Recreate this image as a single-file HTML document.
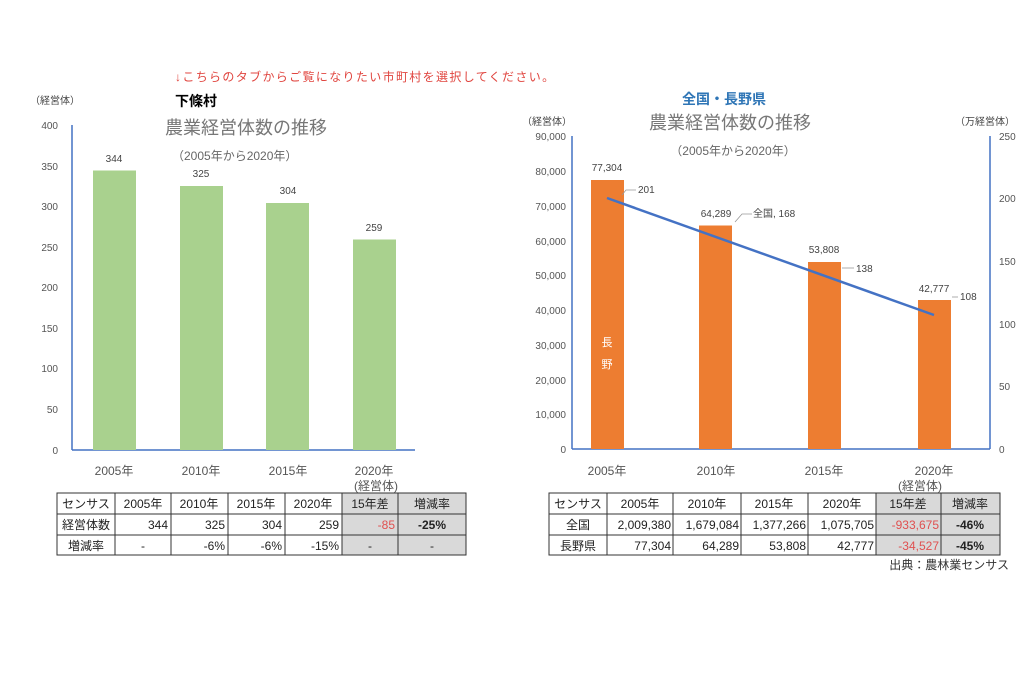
<!DOCTYPE html><html><head><meta charset="utf-8"><style>
body{margin:0;background:#fff}
svg text{font-family:"Liberation Sans","Noto Sans CJK JP",sans-serif}
</style></head><body>
<svg width="1034" height="690" viewBox="0 0 1034 690" xmlns="http://www.w3.org/2000/svg">
<rect width="1034" height="690" fill="#fff"/>
<text x="175" y="81" font-size="12" fill="#e0453f" letter-spacing="1.35">↓こちらのタブからご覧になりたい市町村を選択してください。</text>
<!-- LEFT CHART -->
<text x="30" y="104" font-size="10" fill="#444">（経営体）</text>
<text x="175" y="106" font-size="14" font-weight="bold" fill="#000">下條村</text>
<text x="165" y="134" font-size="18" fill="#777">農業経営体数の推移</text>
<text x="172" y="160" font-size="12" fill="#666">（2005年から2020年）</text>
<g font-size="10" fill="#555" text-anchor="end">
<text x="58" y="129">400</text><text x="58" y="170">350</text><text x="58" y="210">300</text><text x="58" y="251">250</text><text x="58" y="291">200</text><text x="58" y="332">150</text><text x="58" y="372">100</text><text x="58" y="413">50</text><text x="58" y="454">0</text>
</g>
<line x1="72" y1="125" x2="72" y2="450" stroke="#4472c4" stroke-width="1.5"/>
<line x1="72" y1="450" x2="415" y2="450" stroke="#4472c4" stroke-width="1.5"/>
<g fill="#a9d18e">
<rect x="93" y="170.5" width="43" height="279.5"/>
<rect x="180" y="186" width="43" height="264"/>
<rect x="266" y="203" width="43" height="247"/>
<rect x="353" y="239.5" width="43" height="210.5"/>
</g>
<g font-size="10" fill="#444" text-anchor="middle">
<text x="114" y="162">344</text><text x="201" y="177">325</text><text x="288" y="194">304</text><text x="374" y="231">259</text>
</g>
<g font-size="12" fill="#555" text-anchor="middle">
<text x="114" y="475">2005年</text><text x="201" y="475">2010年</text><text x="288" y="475">2015年</text><text x="374" y="475">2020年</text><text x="376" y="490">(経営体)</text>
</g>
<!-- left table -->
<g stroke="#333" stroke-width="1" fill="none">
<rect x="342" y="493" width="124" height="62" fill="#d9d9d9"/>
<rect x="57" y="493" width="409" height="62"/>
<line x1="57" y1="514" x2="466" y2="514"/><line x1="57" y1="535" x2="466" y2="535"/>
<line x1="115" y1="493" x2="115" y2="555"/><line x1="171" y1="493" x2="171" y2="555"/><line x1="228" y1="493" x2="228" y2="555"/><line x1="285" y1="493" x2="285" y2="555"/><line x1="342" y1="493" x2="342" y2="555"/><line x1="398" y1="493" x2="398" y2="555"/>
</g>
<g font-size="12" fill="#222">
<g text-anchor="middle"><text x="86" y="508">センサス</text><text x="143" y="508">2005年</text><text x="199" y="508">2010年</text><text x="256" y="508">2015年</text><text x="313" y="508">2020年</text><text x="370" y="508">15年差</text><text x="432" y="508">増減率</text>
<text x="86" y="529">経営体数</text><text x="432" y="529" font-weight="bold">-25%</text>
<text x="86" y="550">増減率</text><text x="143" y="550">-</text><text x="370" y="550">-</text><text x="432" y="550">-</text></g>
<g text-anchor="end"><text x="168" y="529">344</text><text x="225" y="529">325</text><text x="282" y="529">304</text><text x="339" y="529">259</text><text x="395" y="529" fill="#e05050">-85</text>
<text x="225" y="550">-6%</text><text x="282" y="550">-6%</text><text x="339" y="550">-15%</text></g>
</g>
<!-- RIGHT CHART -->
<text x="724" y="104" font-size="14" font-weight="bold" fill="#2e75b6" text-anchor="middle">全国・長野県</text>
<text x="730" y="129" font-size="18" fill="#777" text-anchor="middle">農業経営体数の推移</text>
<text x="733" y="155" font-size="12" fill="#666" text-anchor="middle">（2005年から2020年）</text>
<text x="522" y="125" font-size="10" fill="#444">（経営体）</text>
<text x="955" y="125" font-size="10" fill="#444">（万経営体）</text>
<g font-size="10" fill="#555" text-anchor="end">
<text x="566" y="140">90,000</text><text x="566" y="175">80,000</text><text x="566" y="210">70,000</text><text x="566" y="245">60,000</text><text x="566" y="279">50,000</text><text x="566" y="314">40,000</text><text x="566" y="349">30,000</text><text x="566" y="384">20,000</text><text x="566" y="418">10,000</text><text x="566" y="453">0</text>
</g>
<g font-size="10" fill="#555">
<text x="999" y="140">250</text><text x="999" y="202">200</text><text x="999" y="265">150</text><text x="999" y="328">100</text><text x="999" y="390">50</text><text x="999" y="453">0</text>
</g>
<line x1="572" y1="136" x2="572" y2="449" stroke="#4472c4" stroke-width="1.5"/>
<line x1="990" y1="136" x2="990" y2="449" stroke="#4472c4" stroke-width="1.5"/>
<line x1="572" y1="449" x2="990" y2="449" stroke="#4472c4" stroke-width="1.5"/>
<g fill="#ed7d31">
<rect x="591" y="180" width="33" height="269"/>
<rect x="699" y="225.5" width="33" height="223.5"/>
<rect x="808" y="262" width="33" height="187"/>
<rect x="918" y="300" width="33" height="149"/>
</g>
<text x="607" y="346" font-size="11" fill="#fff" text-anchor="middle">長</text>
<text x="607" y="368" font-size="11" fill="#fff" text-anchor="middle">野</text>
<line x1="607" y1="198" x2="934" y2="315" stroke="#4472c4" stroke-width="2.5"/>
<g font-size="10" fill="#444">
<text x="607" y="171" text-anchor="middle">77,304</text><text x="716" y="217" text-anchor="middle">64,289</text><text x="824" y="253" text-anchor="middle">53,808</text><text x="934" y="292" text-anchor="middle">42,777</text>
<text x="638" y="193">201</text><text x="753" y="217">全国, 168</text><text x="856" y="272">138</text><text x="960" y="300">108</text>
</g>
<g stroke="#999" fill="none" stroke-width="0.8">
<path d="M622 195 L626 190 L636 190"/><path d="M735 222 L742 214 L752 214"/><path d="M842 268 L854 268"/><path d="M952 297 L958 297"/>
</g>
<g font-size="12" fill="#555" text-anchor="middle">
<text x="607" y="475">2005年</text><text x="716" y="475">2010年</text><text x="824" y="475">2015年</text><text x="934" y="475">2020年</text><text x="920" y="490">(経営体)</text>
</g>
<!-- right table -->
<g stroke="#333" stroke-width="1" fill="none">
<rect x="876" y="493" width="124" height="62" fill="#d9d9d9"/>
<rect x="549" y="493" width="451" height="62"/>
<line x1="549" y1="514" x2="1000" y2="514"/><line x1="549" y1="535" x2="1000" y2="535"/>
<line x1="607" y1="493" x2="607" y2="555"/><line x1="673" y1="493" x2="673" y2="555"/><line x1="741" y1="493" x2="741" y2="555"/><line x1="808" y1="493" x2="808" y2="555"/><line x1="876" y1="493" x2="876" y2="555"/><line x1="941" y1="493" x2="941" y2="555"/>
</g>
<g font-size="12" fill="#222">
<g text-anchor="middle"><text x="578" y="508">センサス</text><text x="640" y="508">2005年</text><text x="707" y="508">2010年</text><text x="774" y="508">2015年</text><text x="842" y="508">2020年</text><text x="908" y="508">15年差</text><text x="970" y="508">増減率</text>
<text x="578" y="529">全国</text><text x="970" y="529" font-weight="bold">-46%</text>
<text x="578" y="550">長野県</text><text x="970" y="550" font-weight="bold">-45%</text></g>
<g text-anchor="end"><text x="671" y="529">2,009,380</text><text x="739" y="529">1,679,084</text><text x="806" y="529">1,377,266</text><text x="874" y="529">1,075,705</text><text x="939" y="529" fill="#e05050">-933,675</text>
<text x="671" y="550">77,304</text><text x="739" y="550">64,289</text><text x="806" y="550">53,808</text><text x="874" y="550">42,777</text><text x="939" y="550" fill="#e05050">-34,527</text></g>
</g>
<text x="1009" y="569" font-size="12" fill="#333" text-anchor="end">出典：農林業センサス</text>
</svg>
</body></html>
